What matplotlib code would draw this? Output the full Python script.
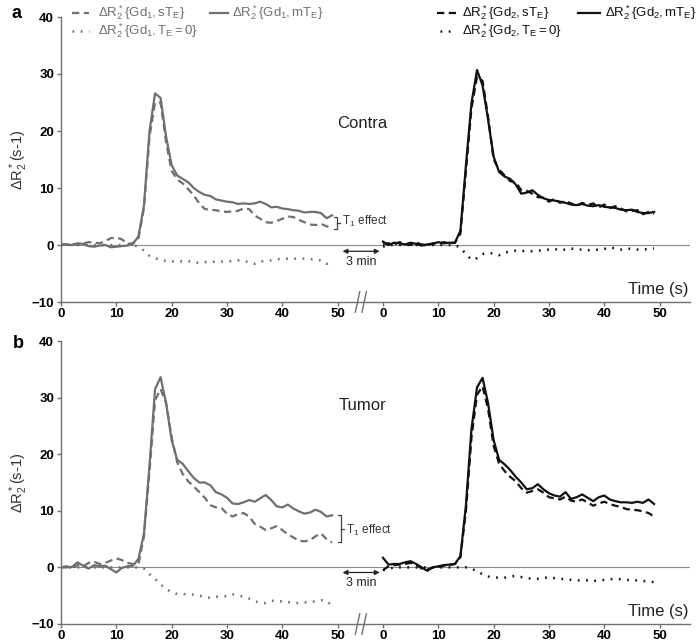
import numpy as np
import matplotlib
matplotlib.use("Agg")
import matplotlib.pyplot as plt
from matplotlib.lines import Line2D

plt.rcParams['font.family'] = ['Liberation Sans', 'DejaVu Sans']
plt.rcParams['mathtext.fontset'] = 'custom'
plt.rcParams['mathtext.rm'] = 'Liberation Sans'
plt.rcParams['mathtext.it'] = 'Liberation Sans'
plt.rcParams['mathtext.bf'] = 'Liberation Sans:bold'

# --- DATA (1 s sampling) ---
t = np.arange(0, 50)
x_offset = 58.2   # where the second time axis (after 3 min) starts

# panel a: Contra
a_gd1_m = [0.2, 0.1, 0.0, 0.3, 0.2, -0.2, -0.3, -0.1, 0.0, -0.4,
           -0.3, -0.2, -0.1, 0.2, 1.5, 7.0, 20.0, 26.6, 25.8, 19.0,
           14.0, 12.2, 11.6, 11.0, 10.0, 9.3, 8.8, 8.6, 8.0, 7.8,
           7.6, 7.5, 7.2, 7.3, 7.2, 7.3, 7.6, 7.2, 6.6, 6.7,
           6.4, 6.3, 6.1, 6.0, 5.7, 5.8, 5.8, 5.6, 4.7, 5.2]
a_gd1_s = [0.0, 0.1, 0.2, 0.0, 0.3, 0.5, 0.4, 0.3, 0.7, 1.2,
           1.3, 1.0, 0.2, 0.3, 1.2, 6.5, 19.0, 25.0, 25.0, 18.0,
           13.0, 11.5, 10.8, 9.8, 8.7, 7.3, 6.3, 6.2, 6.1, 5.9,
           5.8, 5.9, 6.0, 6.4, 6.3, 5.2, 4.6, 4.0, 3.9, 4.2,
           4.6, 5.0, 4.9, 4.4, 4.0, 3.6, 3.5, 3.7, 3.3, 2.9]
a_gd1_0 = [0.0, 0.0, 0.0, 0.0, 0.0, 0.0, 0.0, 0.0, 0.0, 0.0,
           0.0, 0.0, 0.0, 0.0, -0.3, -1.0, -1.9, -2.3, -2.6, -2.8,
           -2.9, -2.8, -2.9, -2.8, -3.1, -3.1, -3.0, -3.0, -2.9, -2.9,
           -2.9, -2.8, -2.7, -2.8, -3.0, -3.3, -2.9, -2.8, -2.7, -2.5,
           -2.4, -2.4, -2.4, -2.4, -2.4, -2.5, -2.5, -2.7, -3.3, -2.9]
a_gd2_m = [0.6, 0.0, 0.4, 0.3, 0.1, 0.4, 0.2, -0.1, 0.1, 0.2,
           0.5, 0.3, 0.4, 0.4, 2.5, 14.0, 24.9, 30.7, 28.0, 22.0,
           15.5, 12.8, 12.0, 11.6, 10.6, 9.0, 9.2, 9.6, 8.8, 8.2,
           7.9, 7.8, 7.6, 7.4, 7.1, 7.0, 7.2, 6.9, 6.8, 7.0,
           6.7, 6.6, 6.5, 6.2, 6.1, 6.2, 5.8, 5.6, 5.6, 5.8]
a_gd2_s = [0.2, 0.3, 0.1, 0.5, 0.2, 0.0, 0.4, 0.1, 0.0, 0.3,
           0.2, 0.5, 0.3, 0.4, 2.0, 13.0, 24.0, 29.5, 28.8, 22.5,
           15.0, 13.2, 12.2, 11.2, 11.0, 9.6, 9.5, 9.0, 8.4, 8.3,
           7.6, 8.1, 7.4, 7.7, 7.3, 6.8, 7.4, 7.0, 7.3, 6.6,
           7.1, 6.5, 6.8, 6.4, 5.9, 6.0, 6.1, 5.4, 5.8, 5.5]
a_gd2_0 = [-0.3, 0.0, 0.0, 0.0, 0.0, 0.0, 0.0, 0.0, 0.0, 0.0,
           0.0, 0.0, 0.0, 0.0, -0.5, -1.6, -2.6, -2.3, -1.6, -1.4,
           -1.5, -1.8, -1.3, -1.2, -1.0, -1.1, -1.0, -1.1, -1.0, -0.9,
           -0.8, -0.7, -0.9, -0.8, -0.6, -0.8, -0.8, -0.9, -0.9, -0.8,
           -0.7, -0.4, -0.6, -0.8, -0.6, -0.7, -0.8, -0.8, -0.7, -0.6]

# panel b: Tumor
b_gd1_m = [0.0, 0.0, 0.1, 0.9, 0.3, -0.2, 0.4, 0.2, 0.3, -0.3,
           -0.9, -0.1, 0.2, 0.3, 1.5, 6.0, 18.0, 31.5, 33.6, 29.0,
           22.5, 19.0, 18.3, 17.0, 15.8, 15.0, 15.0, 14.5, 13.3, 12.9,
           12.3, 11.3, 11.2, 11.5, 11.9, 11.6, 12.2, 12.8, 11.9, 10.8,
           10.6, 11.1, 10.4, 9.9, 9.5, 9.7, 10.2, 9.8, 9.0, 9.2]
b_gd1_s = [0.0, 0.2, 0.0, 0.4, 0.2, 0.8, 1.0, 0.6, 0.8, 1.2,
           1.6, 1.3, 0.8, 0.6, 0.6, 5.5, 17.0, 29.5, 31.5, 29.0,
           23.0, 18.6, 16.5, 15.2, 14.3, 13.3, 12.3, 11.0, 10.6, 10.5,
           9.5, 9.0, 9.4, 9.6, 9.0, 7.7, 7.2, 6.6, 6.9, 7.3,
           6.6, 5.8, 5.3, 4.7, 4.6, 4.8, 5.5, 6.0, 5.0, 4.4]
b_gd1_0 = [0.0, 0.0, 0.0, 0.0, 0.0, 0.0, 0.0, 0.0, 0.0, 0.0,
           0.0, 0.0, 0.0, 0.0, 0.0, -0.2, -1.2, -2.0, -3.0, -3.8,
           -4.4, -4.7, -4.7, -4.8, -4.8, -5.0, -5.2, -5.4, -5.2, -5.1,
           -5.1, -4.8, -4.9, -5.2, -5.5, -6.0, -6.2, -6.3, -5.9, -5.9,
           -6.0, -6.1, -6.3, -6.3, -6.2, -6.1, -6.0, -5.8, -5.9, -6.8]
b_gd2_m = [1.7, 0.5, 0.6, 0.6, 0.9, 1.1, 0.6, 0.0, -0.6, 0.0,
           0.2, 0.4, 0.5, 0.6, 2.0, 11.0, 24.5, 31.8, 33.5, 29.0,
           22.5, 19.0, 18.2, 17.2, 16.0, 15.0, 13.8, 14.0, 14.7, 13.8,
           13.1, 12.7, 12.5, 13.3, 12.1, 12.4, 12.9, 12.3, 11.7, 12.4,
           12.7, 12.0, 11.7, 11.5, 11.5, 11.4, 11.6, 11.4, 12.0, 11.2]
b_gd2_s = [-0.5, 0.2, 0.4, 0.5, 0.6, 0.8, 0.5, -0.2, -0.4, 0.0,
           0.1, 0.3, 0.4, 0.6, 1.8, 10.0, 23.0, 30.5, 32.0, 28.0,
           21.5, 18.3, 17.0, 16.0, 15.2, 14.0, 13.2, 13.5, 13.8, 13.2,
           12.4, 12.2, 12.0, 12.5, 11.8, 11.6, 12.0, 11.5, 10.9, 11.3,
           11.6, 11.2, 10.9, 10.7, 10.3, 10.2, 10.1, 9.9, 9.6, 9.0]
b_gd2_0 = [-0.5, -0.3, 0.0, 0.0, 0.0, 0.0, 0.0, 0.0, 0.0, 0.0,
           0.0, 0.0, 0.0, 0.0, 0.0, 0.0, -0.2, -0.7, -1.2, -1.6,
           -1.8, -1.8, -1.8, -1.6, -1.5, -1.7, -1.9, -2.0, -2.0, -1.9,
           -1.7, -1.9, -2.0, -2.1, -2.2, -2.3, -2.3, -2.3, -2.4, -2.3,
           -2.2, -2.1, -2.0, -2.1, -2.2, -2.3, -2.3, -2.4, -2.5, -2.6]

tick_vals = [0, 10, 20, 30, 40, 50]
y_ticks = [-10, 0, 10, 20, 30, 40]

grey = '#6f6f6f'
black = '#111111'
axcol = '#707070'
W, H = 698, 644

dash = (0, (3.3, 2.0))
dots = (0, (0.7, 2.6))

fig = plt.figure(figsize=(W / 100, H / 100), dpi=100)


def px(x, y):
    return x / W, 1 - y / H


def panel(rect, gd1, gd2, name, name_y, t1_bracket, t1_y, arrow_y):
    ax = fig.add_axes(rect)
    m1, s1, z1 = gd1
    m2, s2, z2 = gd2
    ax.axhline(0, color='#8a8a8a', lw=0.8, zorder=1)
    ax.plot(t, z1, color=grey, lw=1.8, ls=dots, dash_capstyle='butt')
    ax.plot(t, s1, color=grey, lw=1.6, ls=dash)
    ax.plot(t, m1, color=grey, lw=1.6)
    t2 = t + x_offset
    ax.plot(t2, z2, color=black, lw=1.8, ls=dots, dash_capstyle='butt')
    ax.plot(t2, s2, color=black, lw=1.6, ls=dash)
    ax.plot(t2, m2, color=black, lw=1.6)

    ax.set_xlim(0, 113.7)
    ax.set_ylim(-10, 40)
    for s in ['top', 'right']:
        ax.spines[s].set_visible(False)
    for s in ['left', 'bottom']:
        ax.spines[s].set_color(axcol)
        ax.spines[s].set_linewidth(1.0)
    ax.set_yticks(y_ticks)
    ax.set_xticks(tick_vals + [v + x_offset for v in tick_vals])
    ax.set_xticklabels([str(v) for v in tick_vals] * 2)
    ax.tick_params(axis='both', colors=axcol, labelcolor='black',
                   labelsize=9.5, length=3, width=1.0)
    ax.tick_params(axis='x', pad=1.5)
    ax.tick_params(axis='y', pad=2)
    for lab in ax.get_xticklabels() + ax.get_yticklabels():
        lab.set_fontweight('bold')
    ax.set_ylabel(r'$\Delta R_2^*$(s-1)', fontsize=10.5, color='#333333',
                  labelpad=1)

    # axis break marks
    for dx in (-0.6, 0.6):
        ax.plot([54.2 + dx - 0.4, 54.2 + dx + 0.4], [-11.8, -8.2],
                color=axcol, lw=1.0, clip_on=False)

    ax.text(54.5, name_y, name, fontsize=12, ha='center', va='center',
            color='#222222')
    ax.text(113.5, -7.8, 'Time (s)', fontsize=12, ha='right', va='center',
            color='#222222')

    # T1 effect bracket
    xb, lo, hi = t1_bracket
    ax.plot([xb - 0.6, xb, xb, xb - 0.6], [hi, hi, lo, lo], color='#444444',
            lw=0.9)
    ax.plot([xb, xb + 0.5], [(lo + hi) / 2] * 2, color='#444444', lw=0.9)
    ax.text(xb + 0.9, t1_y, r'T$_1$ effect', fontsize=8.5, va='center',
            ha='left', color='#333333')

    # 3 min arrow
    ax.annotate('', xy=(57.6, arrow_y), xytext=(50.9, arrow_y),
                arrowprops=dict(arrowstyle='<|-|>', color='#222222', lw=0.9,
                                mutation_scale=7, shrinkA=0, shrinkB=0))
    ax.text(54.3, arrow_y - 1.8, '3 min', fontsize=9, ha='center',
            va='center', color='#222222')
    return ax


ax_a = panel([61 / W, 1 - 302 / H, 629 / W, 285 / H],
             (a_gd1_m, a_gd1_s, a_gd1_0), (a_gd2_m, a_gd2_s, a_gd2_0),
             'Contra', 21.4, (49.9, 2.8, 5.0), 4.2, -1.1)
ax_b = panel([61 / W, 1 - 624 / H, 629 / W, 283 / H],
             (b_gd1_m, b_gd1_s, b_gd1_0), (b_gd2_m, b_gd2_s, b_gd2_0),
             'Tumor', 28.6, (50.6, 4.4, 9.2), 6.5, -0.9)

fig.text(*px(16, 14), 'a', fontsize=13, fontweight='bold', ha='center',
         va='center')
fig.text(*px(18, 344), 'b', fontsize=13, fontweight='bold', ha='center',
         va='center')


# legends
def leg_item(x0, x1, y, ls, color, label, tx):
    xa, ya = px(x0, y)
    xb, _ = px(x1, y)
    lw = 1.8 if ls == dots else 1.6
    fig.add_artist(Line2D([xa, xb], [ya, ya], ls=ls, color=color, lw=lw,
                          transform=fig.transFigure))
    fig.text(*px(tx, y), label, fontsize=9.5, color=color, va='center',
             ha='left')


leg_item(72, 89, 13, dash, grey, r'$\Delta R_2^*\{Gd_1, sT_E\}$', 98)
leg_item(210, 228, 13, '-', grey, r'$\Delta R_2^*\{Gd_1, mT_E\}$', 232)
leg_item(72, 89, 31, dots, grey, r'$\Delta R_2^*\{Gd_1, T_E = 0\}$', 98)
leg_item(437, 456, 13, dash, black, r'$\Delta R_2^*\{Gd_2, sT_E\}$', 462)
leg_item(578, 600, 13, '-', black, r'$\Delta R_2^*\{Gd_2, mT_E\}$', 605)
leg_item(440, 452, 31, dots, black, r'$\Delta R_2^*\{Gd_2, T_E = 0\}$', 462)

fig.savefig('out.png', dpi=100)
